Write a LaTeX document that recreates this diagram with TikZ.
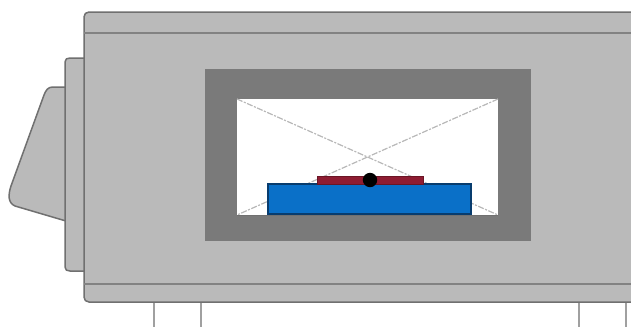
\documentclass[tikz,border=0pt]{standalone}
\definecolor{bodygray}{RGB}{186,186,186}
\definecolor{edgegray}{RGB}{112,112,112}
\definecolor{framegray}{RGB}{122,122,122}
\definecolor{legline}{RGB}{160,160,160}
\definecolor{crossgray}{RGB}{185,185,185}
\definecolor{bluebox}{RGB}{10,112,200}
\definecolor{blueedge}{RGB}{8,60,110}
\definecolor{redbox}{RGB}{142,28,50}
\tikzset{
  housing/.style={fill=bodygray,draw=edgegray,line width=1.5pt,line join=round},
  seam/.style={draw=edgegray!75!bodygray,line width=1.5pt},
  leg/.style={draw=legline,line width=1.6pt},
  sightline/.style={draw=crossgray,line width=1.2pt,dash pattern=on 6pt off 1.5pt on 2pt off 1.5pt}
}
\begin{document}
\begin{tikzpicture}[x=1pt,y=-1pt]
\useasboundingbox (0,0) rectangle (631,327);
\fill[white] (0,0) rectangle (631,327);
% legs
\foreach \x in {154,201,579,626} \draw[leg] (\x,302) -- (\x,327);
% wedge
\draw[housing] (66,87) -- (53,87) .. controls (48,87) and (46,90) .. (44,95)
  -- (11,186) .. controls (8,195) and (8,203) .. (15,206) -- (66,221) -- cycle;
% side panel
\draw[housing] (85,58) -- (70,58) .. controls (67,58) and (65,59) .. (65,62)
  -- (65,267) .. controls (65,270) and (67,271) .. (70,271) -- (85,271) -- cycle;
% main body
\fill[bodygray] (640,12) -- (89,12) .. controls (86,12) and (84,14) .. (84,17)
  -- (84,297) .. controls (84,300) and (86,302) .. (89,302) -- (640,302) -- cycle;
\draw[edgegray,line width=1.5pt,line join=round] (640,12) -- (89,12) .. controls (86,12) and (84,14) .. (84,17)
  -- (84,297) .. controls (84,300) and (86,302) .. (89,302) -- (640,302);
\draw[seam] (84,33) -- (631,33);
\draw[seam] (84,284) -- (631,284);
% window
\fill[framegray] (205,69) rectangle (531,241);
\fill[white] (237,99) rectangle (498,215);
\draw[sightline] (237,99) -- (498,215);
\draw[sightline] (498,99) -- (237,215);
\draw[edgegray,line width=.8pt] (237,215) -- (498,215);
% product
\draw[fill=bluebox,draw=blueedge,line width=1.1pt] (268,184) rectangle (471,214);
\draw[fill=redbox,draw=redbox!75!black,line width=.8pt] (317,176) rectangle (423,184);
\fill[black] (370,180) circle (7.2);
\end{tikzpicture}
\end{document}
